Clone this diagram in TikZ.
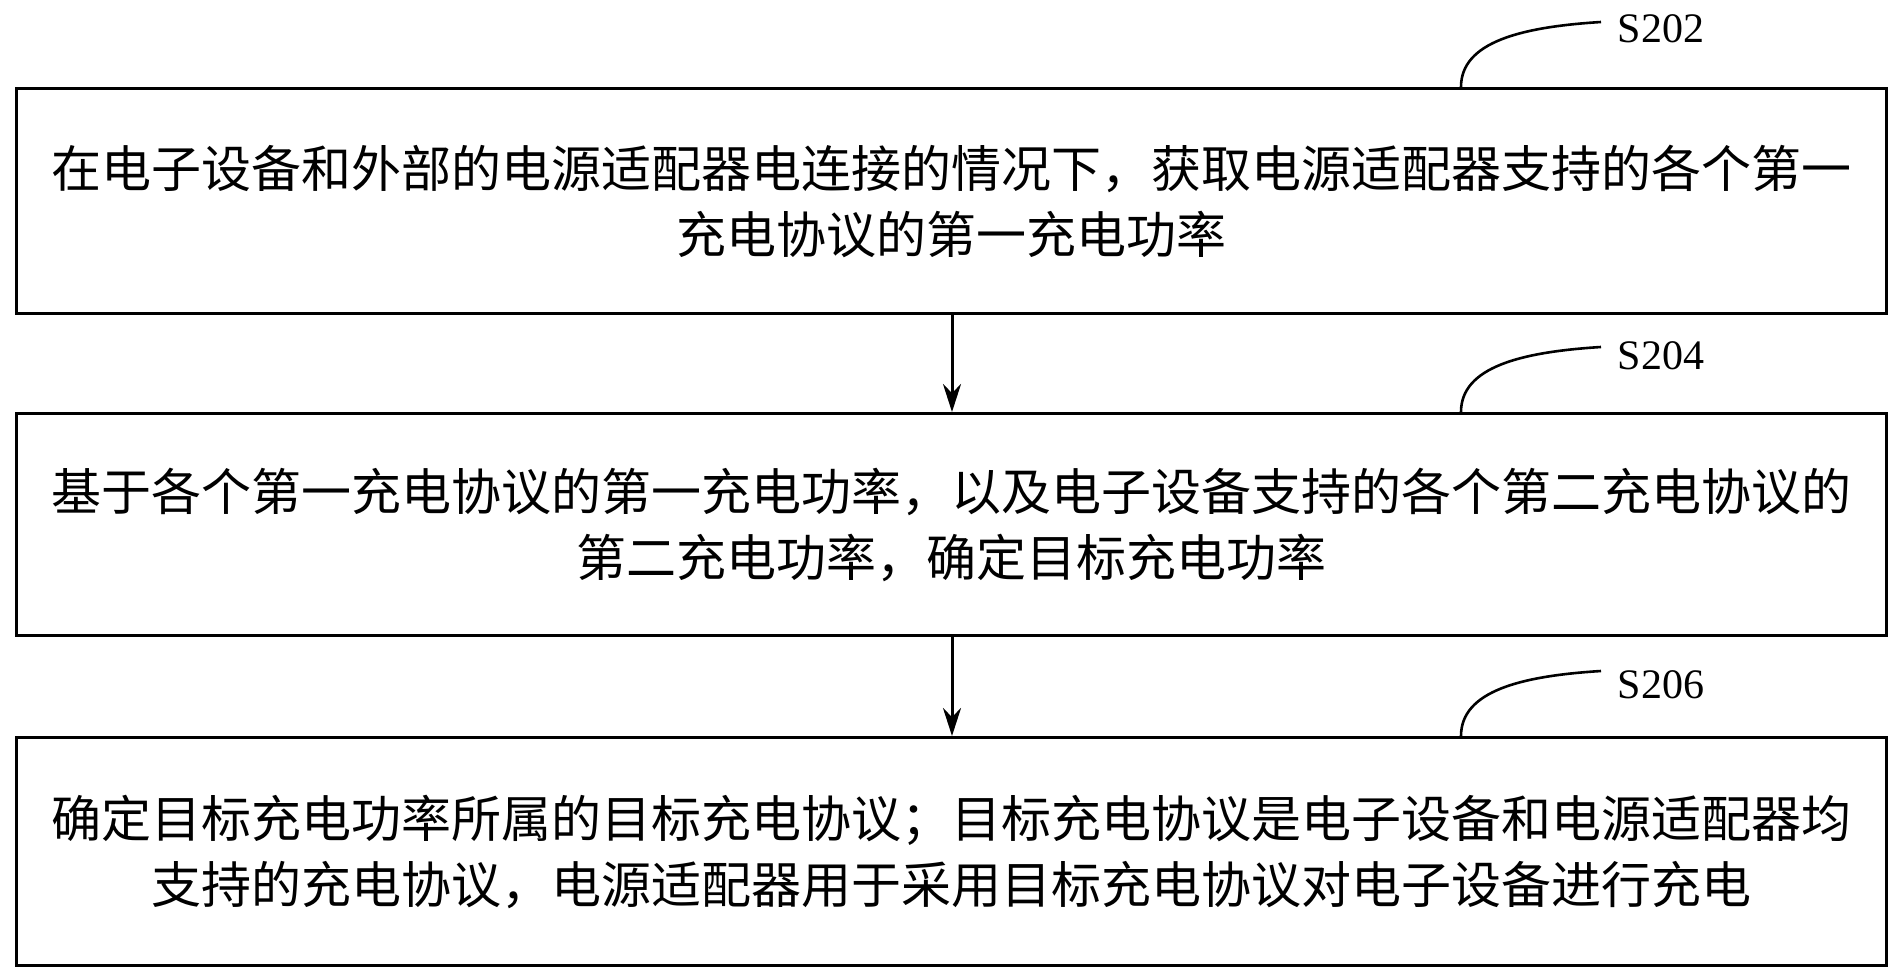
\documentclass[tikz,border=0pt]{standalone}
\usepackage{fontspec}
\usetikzlibrary{arrows.meta,calc}
\setmainfont{Liberation Serif}
\newfontfamily\cjk{Noto Sans CJK SC}
\begin{document}
\begin{tikzpicture}[x=1pt,y=-1pt,
  stepbox/.style={draw,line width=3pt,minimum width=1870pt,anchor=north west,inner sep=0pt,
    font=\cjk\fontsize{50}{66}\selectfont,align=center},
  lbl/.style={font=\fontsize{42}{44}\selectfont},
  conn/.style={line width=3pt,-{Stealth[length=28pt,width=18pt]}}]
\useasboundingbox (0,0) rectangle (1895,976);
\node[stepbox,minimum height=225pt] (b1) at (15,87) {在电子设备和外部的电源适配器电连接的情况下，获取电源适配器支持的各个第一\\充电协议的第一充电功率};
\node[stepbox,minimum height=222pt] (b2) at (15,412) {基于各个第一充电协议的第一充电功率，以及电子设备支持的各个第二充电协议的\\第二充电功率，确定目标充电功率};
\node[stepbox,minimum height=228pt] (b3) at (15,736) {确定目标充电功率所属的目标充电协议；目标充电协议是电子设备和电源适配器均\\支持的充电协议，电源适配器用于采用目标充电协议对电子设备进行充电};
\draw[conn] (b1.south -| 952,0) -- (b2.north -| 952,0);
\draw[conn] (b2.south -| 952,0) -- (b3.north -| 952,0);
\node[lbl] (l1) at (1661,29) {S202};
\node[lbl] (l2) at (1661,356) {S204};
\node[lbl] (l3) at (1661,685) {S206};
\foreach \b/\l in {b1/l1,b2/l2,b3/l3}{
  \coordinate (s) at (\b.north -| 1461,0);
  \draw[line width=2.6pt] (s) .. controls ($(s)+(0,-45)$) and ($(s)+(60,-60)$) .. ($(s)+(140,-65)$);
}
\end{tikzpicture}
\end{document}
